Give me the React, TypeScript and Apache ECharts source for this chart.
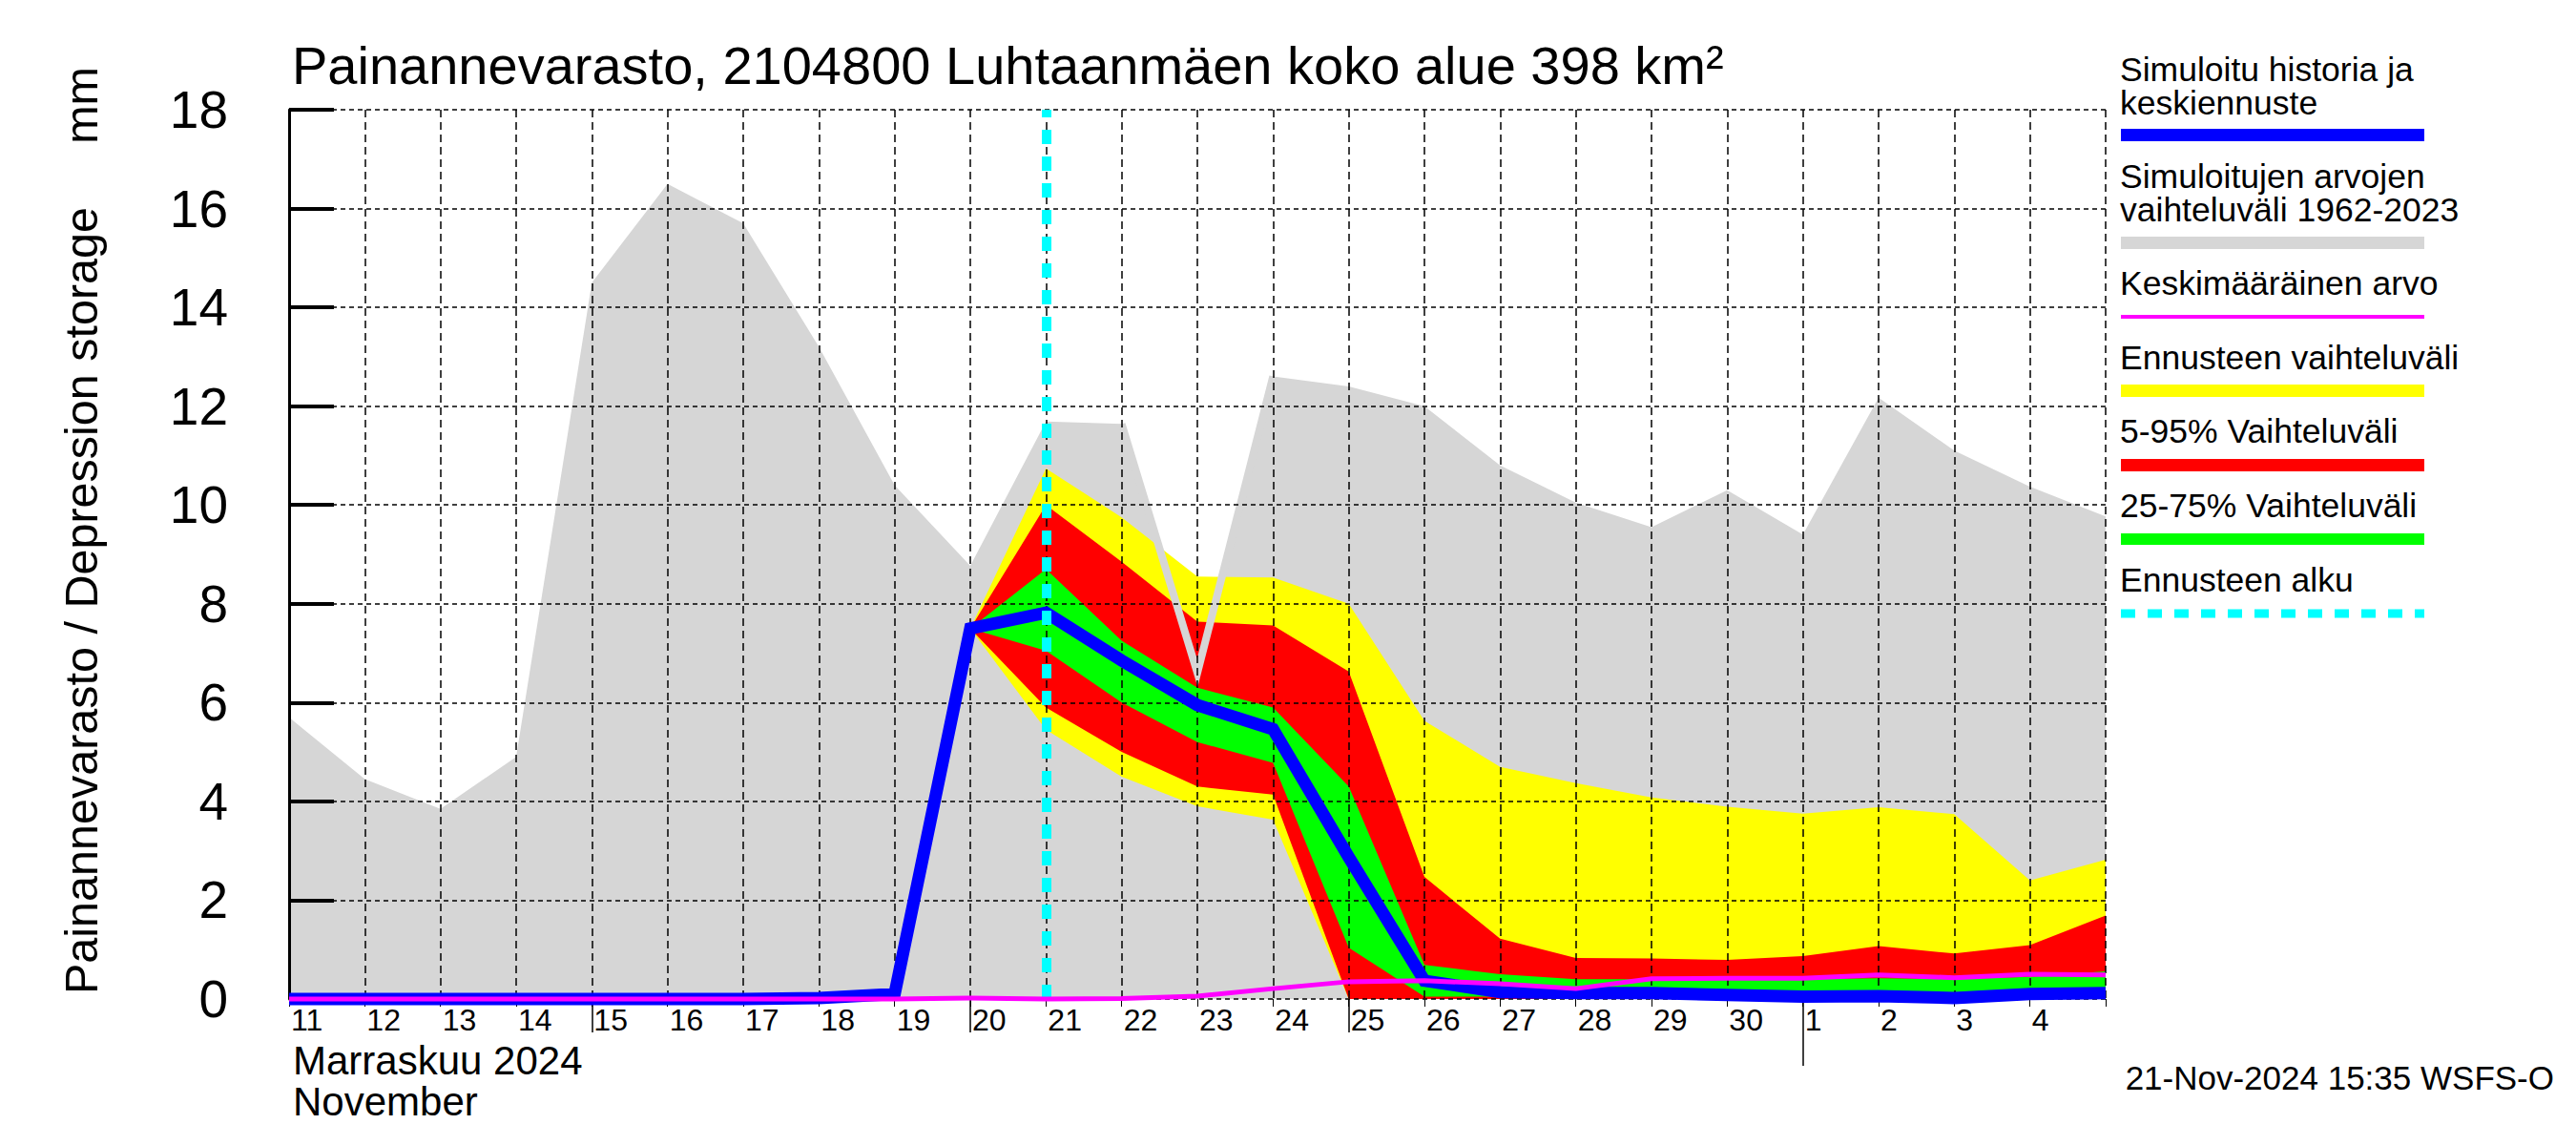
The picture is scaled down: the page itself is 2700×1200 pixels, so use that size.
import React, { useEffect, useRef } from 'react';
import * as echarts from 'echarts';

const categories = [
  '2024-11-11', '2024-11-12', '2024-11-13', '2024-11-14', '2024-11-15',
  '2024-11-16', '2024-11-17', '2024-11-18', '2024-11-19', '2024-11-20',
  '2024-11-21', '2024-11-22', '2024-11-23', '2024-11-24', '2024-11-25',
  '2024-11-26', '2024-11-27', '2024-11-28', '2024-11-29', '2024-11-30',
  '2024-12-01', '2024-12-02', '2024-12-03', '2024-12-04', '2024-12-05',
];
const dayLabels = [
  '11', '12', '13', '14', '15', '16', '17', '18', '19', '20',
  '21', '22', '23', '24', '25', '26', '27', '28', '29', '30',
  '1', '2', '3', '4', '',
];
const yTicks = [0, 2, 4, 6, 8, 10, 12, 14, 16, 18];
const longTickDays = ['2024-11-15', '2024-11-20', '2024-11-25'];
const monthTickDays = ['2024-12-01'];
const forecastStart = '2024-11-21';

// Simulated range 1962-2023
const grayMin = [0, 0, 0, 0, 0, 0, 0, 0, 0, 0, 0, 0, 0, 0, 0, 0, 0, 0, 0, 0, 0, 0, 0, 0, 0];
const grayMax = [5.7, 4.45, 3.85, 4.9, 14.5, 16.5, 15.7, 13.2, 10.4, 8.77, 11.69, 11.64, 6.6, 12.6, 12.4, 12.0, 10.8, 10.05, 9.55, 10.3, 9.4, 12.17, 11.1, 10.37, 9.77];
// Simulated history and median forecast
const blueLine = [0, 0, 0, 0, 0, 0, 0, 0.02, 0.1, 7.5, 7.82, 6.85, 5.95, 5.46, 2.87, 0.37, 0.14, 0.12, 0.12, 0.08, 0.05, 0.06, 0.02, 0.1, 0.12];
// Mean value
const meanLine = [0, 0, 0, 0, 0, 0, 0, 0, 0, 0.02, 0, 0.01, 0.06, 0.21, 0.35, 0.37, 0.31, 0.21, 0.41, 0.42, 0.42, 0.49, 0.43, 0.5, 0.49];
// Forecast ranges
const N = null;
const yellowLo = [N, N, N, N, N, N, N, N, N, 7.5, 5.45, 4.5, 3.9, 3.63, 0, 0, 0, 0, 0, 0, 0, 0, 0, 0, 0];
const yellowHi = [N, N, N, N, N, N, N, N, N, 7.5, 10.74, 9.75, 8.55, 8.53, 8.0, 5.63, 4.7, 4.37, 4.08, 3.89, 3.75, 3.88, 3.74, 2.4, 2.82];
const redLo = [N, N, N, N, N, N, N, N, N, 7.5, 5.9, 5.0, 4.3, 4.14, 0, 0, 0, 0, 0, 0, 0, 0, 0, 0, 0];
const redHi = [N, N, N, N, N, N, N, N, N, 7.5, 10.0, 8.85, 7.64, 7.56, 6.63, 2.47, 1.22, 0.83, 0.82, 0.79, 0.87, 1.07, 0.92, 1.09, 1.69];
const greenLo = [N, N, N, N, N, N, N, N, N, 7.5, 7.05, 6.0, 5.2, 4.78, 1.04, 0.05, 0.05, 0.05, 0.05, 0.03, 0.02, 0.03, 0.0, 0.05, 0.06];
const greenHi = [N, N, N, N, N, N, N, N, N, 7.5, 8.7, 7.25, 6.3, 5.9, 4.3, 0.69, 0.5, 0.4, 0.4, 0.4, 0.4, 0.42, 0.4, 0.45, 0.56];

const FONT = '"Liberation Sans", Arial, Helvetica, sans-serif';

const diff = (hi: (number | null)[], lo: (number | null)[]) =>
  hi.map((v, i) => (v == null || lo[i] == null ? null : +(v - (lo[i] as number)).toFixed(3)));

const grayEdge = grayMax.map((v, i) => {
  const show = [i - 1, i, i + 1].some(
    (j) => j >= 0 && j < grayMax.length && yellowHi[j] != null && grayMax[j] < (yellowHi[j] as number)
  );
  return show ? v : null;
});

function band(name: string, stack: string, lo: (number | null)[], hi: (number | null)[], color: string) {
  return [
    {
      name: name + '-base',
      type: 'line',
      stack,
      data: lo,
      showSymbol: false,
      symbol: 'none',
      lineStyle: { width: 0, opacity: 0 },
      silent: true,
      z: 2,
    },
    {
      name,
      type: 'line',
      stack,
      data: diff(hi, lo),
      showSymbol: false,
      symbol: 'none',
      lineStyle: { width: 0, opacity: 0 },
      areaStyle: { color, opacity: 1 },
      silent: true,
      z: 2,
    },
  ];
}

function txt(text: string, x: number, y: number, size: number, align = 'left', rotation = 0) {
  return {
    type: 'text',
    x,
    y,
    rotation,
    silent: true,
    style: {
      text,
      font: `${size}px ${FONT}`,
      fill: '#000',
      align,
      verticalAlign: 'middle',
      textAlign: align,
      textVerticalAlign: 'middle',
    },
  };
}

const legendX1 = 2223;
const legendX2 = 2541;

function legendRect(y1: number, y2: number, color: string) {
  return {
    type: 'rect',
    silent: true,
    shape: { x: legendX1, y: y1, width: legendX2 - legendX1, height: y2 - y1 },
    style: { fill: color },
  };
}

export default function App() {
  const ref = useRef<HTMLDivElement>(null);

  useEffect(() => {
    if (!ref.current) return;
    const chart = echarts.init(ref.current, null, { renderer: 'svg' });

    const xBase = {
      type: 'category',
      data: categories,
      boundaryGap: false,
      gridIndex: 0,
      position: 'bottom',
      z: 3,
      axisLine: { show: false },
      axisLabel: { show: false },
      splitLine: { show: false },
    };

    const option: any = {
      animation: false,
      backgroundColor: '#ffffff',
      grid: { left: 303, right: 493, top: 115, bottom: 153, containLabel: false },
      xAxis: [
        {
          ...xBase,
          axisTick: { show: true, interval: 0, length: 8, lineStyle: { color: '#000', width: 1 } },
          axisLabel: {
            show: true,
            interval: 0,
            align: 'left',
            verticalAlign: 'middle',
            margin: 22,
            fontSize: 32,
            fontFamily: FONT,
            color: '#000',
            padding: [0, 0, 0, 2],
            formatter: (_v: string, idx: number) => dayLabels[idx],
          },
          splitLine: {
            show: true,
            interval: 0,
            lineStyle: { color: '#000', width: 1.5, type: [8, 5] },
          },
        },
        {
          ...xBase,
          axisTick: {
            show: true,
            interval: (_i: number, v: string) => longTickDays.includes(v),
            length: 35,
            lineStyle: { color: '#000', width: 1.5 },
          },
        },
        {
          ...xBase,
          axisTick: {
            show: true,
            interval: (_i: number, v: string) => monthTickDays.includes(v),
            length: 70,
            lineStyle: { color: '#000', width: 1.5 },
          },
        },
      ],
      yAxis: {
        type: 'value',
        min: yTicks[0],
        max: yTicks[yTicks.length - 1],
        interval: 2,
        z: 3,
        axisLine: { show: true, lineStyle: { color: '#000', width: 3 } },
        axisTick: { show: true, inside: true, length: 47, lineStyle: { color: '#000', width: 4 } },
        axisLabel: { show: true, margin: 64, fontSize: 55, fontFamily: FONT, color: '#000' },
        splitLine: { show: true, lineStyle: { color: '#000', width: 1.5, type: [5, 4] } },
      },
      series: [
        ...band('Simuloitujen arvojen vaihteluväli 1962-2023', 'gray', grayMin, grayMax, '#d6d6d6'),
        ...band('Ennusteen vaihteluväli', 'yellow', yellowLo, yellowHi, '#ffff00'),
        ...band('5-95% Vaihteluväli', 'red', redLo, redHi, '#ff0000'),
        ...band('25-75% Vaihteluväli', 'green', greenLo, greenHi, '#00ff00'),
        {
          name: 'gray-edge',
          type: 'line',
          data: grayEdge,
          showSymbol: false,
          symbol: 'none',
          lineStyle: { color: '#d6d6d6', width: 8, join: 'miter' },
          silent: true,
          z: 2,
        },
        {
          name: 'Simuloitu historia ja keskiennuste',
          type: 'line',
          data: blueLine,
          showSymbol: false,
          symbol: 'none',
          clip: false,
          lineStyle: { color: '#0000ff', width: 13, join: 'miter' },
          silent: true,
          z: 4,
        },
        {
          name: 'Keskimääräinen arvo',
          type: 'line',
          data: meanLine,
          showSymbol: false,
          symbol: 'none',
          clip: false,
          lineStyle: { color: '#ff00ff', width: 5 },
          silent: true,
          z: 5,
        },
        {
          name: 'Ennusteen alku',
          type: 'line',
          data: categories.map(() => null),
          showSymbol: false,
          symbol: 'none',
          silent: true,
          z: 6,
          markLine: {
            silent: true,
            symbol: ['none', 'none'],
            label: { show: false },
            lineStyle: { color: '#00ffff', width: 10, type: [15, 13] },
            data: [{ xAxis: forecastStart }],
          },
        },
      ],
      graphic: [
        txt('Painannevarasto, 2104800 Luhtaanmäen koko alue 398 km²', 306, 68, 56),
        txt('Painannevarasto / Depression storage', 85, 1042, 48.5, 'left', Math.PI / 2),
        txt('mm', 85, 70, 48.5, 'right', Math.PI / 2),
        txt('Marraskuu 2024', 307, 1111, 42),
        txt('November', 307, 1154, 42),
        txt('21-Nov-2024 15:35 WSFS-O', 2677, 1129, 35, 'right'),
        txt('Simuloitu historia ja', 2222, 73, 35.5),
        txt('keskiennuste', 2222, 108, 35.5),
        legendRect(135, 148, '#0000ff'),
        txt('Simuloitujen arvojen', 2222, 185, 35.5),
        txt('vaihteluväli 1962-2023', 2222, 220, 35.5),
        legendRect(248, 261, '#d6d6d6'),
        txt('Keskimääräinen arvo', 2222, 297, 35.5),
        legendRect(330, 334, '#ff00ff'),
        txt('Ennusteen vaihteluväli', 2222, 375, 35.5),
        legendRect(403, 416, '#ffff00'),
        txt('5-95% Vaihteluväli', 2222, 452, 35.5),
        legendRect(481, 494, '#ff0000'),
        txt('25-75% Vaihteluväli', 2222, 530, 35.5),
        legendRect(559, 571, '#00ff00'),
        txt('Ennusteen alku', 2222, 608, 35.5),
        {
          type: 'line',
          silent: true,
          shape: { x1: legendX1, y1: 643, x2: legendX2, y2: 643 },
          style: { stroke: '#00ffff', lineWidth: 9, lineDash: [15, 13] },
        },
      ],
    };

    chart.setOption(option);
    return () => chart.dispose();
  }, []);

  return (
    <div
      ref={ref}
      style={{ position: 'absolute', left: 0, top: 0, width: 2700, height: 1200, background: '#fff' }}
    />
  );
}
